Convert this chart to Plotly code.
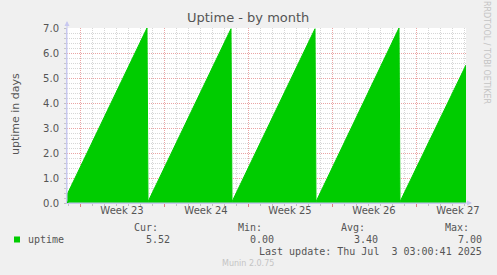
import plotly.graph_objects as go

# ---- data ----
times = ["2025-05-31 22:00", "2025-06-07 14:00", "2025-06-07 16:00",
         "2025-06-14 14:00", "2025-06-14 16:00", "2025-06-21 14:00",
         "2025-06-21 16:00", "2025-06-28 14:00", "2025-06-28 16:00",
         "2025-07-04 04:00"]
uptime = [0.33, 7.00, 0.05, 6.97, 0.05, 6.97, 0.05, 7.00, 0.05, 5.52]

week_label_pos = ["2025-06-05 12:00", "2025-06-12 12:00", "2025-06-19 12:00",
                  "2025-06-26 12:00", "2025-07-03 12:00"]
week_labels = ["Week 23", "Week 24", "Week 25", "Week 26", "Week 27"]
week_starts = ["2025-06-02", "2025-06-09", "2025-06-16", "2025-06-23", "2025-06-30"]
x_range = ["2025-05-31 22:00", "2025-07-04 04:00"]

stat_names = ["Cur:", "Min:", "Avg:", "Max:"]
stat_values = ["5.52", "0.00", "3.40", "7.00"]
series_name = "uptime"
last_update = "Last update: Thu Jul  3 03:00:41 2025"

# ---- layout helpers ----
W, H = 497, 275
L, R, T, B = 67, 31, 28, 72
PW, PH = W - L - R, H - T - B


def px(x):
    return (x - L) / PW


def py(y):
    return (T + PH - y) / PH


GREEN = "#00cc00"
TXT = "#555555"
MONO = "DejaVu Sans Mono"
SANS = "DejaVu Sans"
AXC = "#c8c8f0"
MAJ = "#eaa4a4"
MIN = "#d6d6d6"
DASH = "1px,1px"

fig = go.Figure()
fig.add_trace(go.Scatter(x=times, y=uptime, mode="lines", fill="tozeroy",
                         fillcolor=GREEN, line=dict(color=GREEN, width=1),
                         hoverinfo="skip", showlegend=False, xaxis="x2"))
fig.add_trace(go.Scatter(x=[x_range[0]], y=[None], mode="lines",
                         showlegend=False, hoverinfo="skip", xaxis="x"))

fig.update_layout(
    width=W, height=H,
    margin=dict(l=L, r=R, t=T, b=B),
    paper_bgcolor="#f0f0f0", plot_bgcolor="#ffffff",
    showlegend=False,
    font=dict(family=SANS, size=10, color=TXT),
    xaxis=dict(type="date", range=x_range, tickmode="array",
               tickvals=week_label_pos, ticktext=week_labels,
               showgrid=False, zeroline=False, showline=False, ticks="",
               tickfont=dict(family=SANS, size=10, color=TXT)),
    xaxis2=dict(type="date", range=x_range, overlaying="x", anchor="y",
                side="bottom", tickmode="array", tickvals=week_starts,
                showticklabels=False, showgrid=True,
                gridcolor=MAJ, griddash=DASH, gridwidth=1,
                ticks="outside", ticklen=3, tickcolor="#e08080",
                showline=True, linecolor=AXC, linewidth=1, zeroline=False,
                minor=dict(dtick=86400000, showgrid=True, gridcolor=MIN,
                           griddash=DASH, gridwidth=1, ticks="outside",
                           ticklen=2, tickcolor="#c0c0c0")),
    yaxis=dict(range=[0, 7], tickmode="linear", tick0=0, dtick=1,
               tickformat=".1f", showgrid=True,
               gridcolor=MAJ, griddash=DASH, gridwidth=1,
               zeroline=False, showline=True, linecolor=AXC, linewidth=1,
               ticks="outside", ticklen=2, tickcolor="#c0c0c0",
               ticklabelstandoff=3,
               tickfont=dict(family=SANS, size=10, color=TXT),
               minor=dict(dtick=0.2, showgrid=True, gridcolor=MIN,
                          griddash=DASH, gridwidth=1, ticks="outside",
                          ticklen=2, tickcolor="#c8c8c8")),
)

ann = []
ann.append(dict(text="Uptime - by month", x=px(248), y=py(18), xref="paper",
                yref="paper", showarrow=False, xanchor="center",
                yanchor="middle", font=dict(family=SANS, size=13, color=TXT)))
ann.append(dict(text="uptime in days", x=px(15), y=py(114), xref="paper",
                yref="paper", showarrow=False, textangle=-90,
                xanchor="center", yanchor="middle",
                font=dict(family=SANS, size=11, color=TXT)))
ann.append(dict(text="RRDTOOL / TOBI OETIKER", x=px(487), y=py(52),
                xref="paper", yref="paper", showarrow=False, textangle=90,
                xanchor="center", yanchor="middle",
                font=dict(family=SANS, size=8, color="#c4c4c4")))
# axis arrows
ann.append(dict(x=px(67), y=py(21), xref="paper", yref="paper", ax=0, ay=182,
                axref="pixel", ayref="pixel", text="", showarrow=True,
                arrowhead=2, arrowsize=1, arrowwidth=1, arrowcolor=AXC))
ann.append(dict(x=px(472), y=py(203), xref="paper", yref="paper", ax=-405,
                ay=0, text="", showarrow=True, arrowhead=2, arrowsize=1,
                arrowwidth=1, arrowcolor=AXC))

# legend / stats
hdr_right = [159, 263, 366, 470]
val_right = [171, 275, 379, 483]
for name, val, hx, vx in zip(stat_names, stat_values, hdr_right, val_right):
    ann.append(dict(text=name, x=px(hx + 1), y=py(227.5), xref="paper",
                    yref="paper", showarrow=False, xanchor="right",
                    yanchor="middle", font=dict(family=MONO, size=10, color=TXT)))
    ann.append(dict(text=val, x=px(vx + 1), y=py(239.5), xref="paper",
                    yref="paper", showarrow=False, xanchor="right",
                    yanchor="middle", font=dict(family=MONO, size=10, color=TXT)))
ann.append(dict(text=series_name, x=px(26), y=py(239.5), xref="paper",
                yref="paper", showarrow=False, xanchor="left",
                yanchor="middle", font=dict(family=MONO, size=10, color=TXT)))
ann.append(dict(text=last_update.replace(" ", "&nbsp;"), x=px(484),
                y=py(251.5), xref="paper", yref="paper", showarrow=False,
                xanchor="right", yanchor="middle",
                font=dict(family=MONO, size=10, color=TXT)))
ann.append(dict(text="Munin 2.0.75", x=px(248), y=py(263.5), xref="paper",
                yref="paper", showarrow=False, xanchor="center",
                yanchor="middle", font=dict(family=SANS, size=8, color="#c4c4c4")))
fig.update_layout(annotations=ann)

fig.add_shape(type="rect", xref="paper", yref="paper",
              x0=px(14), x1=px(20), y0=py(242.5), y1=py(236.5),
              fillcolor=GREEN, line=dict(width=0))

fig.write_html("out.html")
